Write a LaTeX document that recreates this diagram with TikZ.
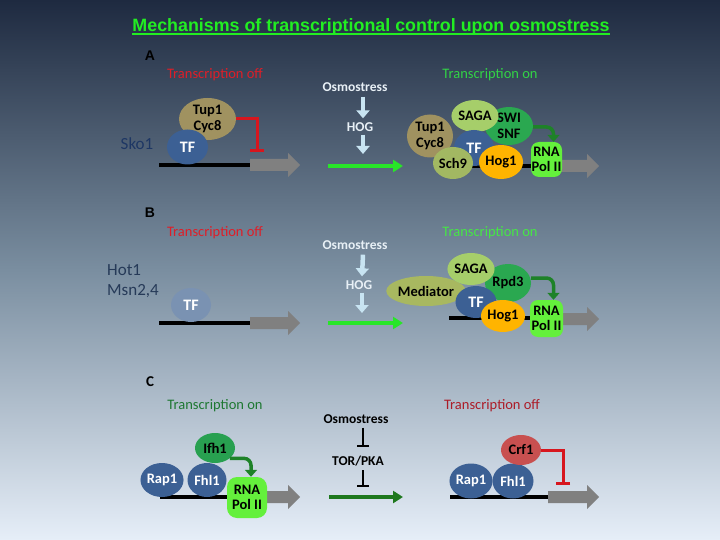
\documentclass[tikz,border=0pt]{standalone}
\usepackage{fontspec}
\setmainfont{Carlito}
\newfontfamily\arialf{Liberation Sans}
\usetikzlibrary{shapes.geometric,arrows.meta,calc}
\definecolor{bgtop}{RGB}{30,42,64}
\definecolor{bgmid}{RGB}{122,142,160}
\definecolor{bgbot}{RGB}{230,238,248}
\definecolor{titlegreen}{RGB}{34,238,34}
\definecolor{offred}{RGB}{222,30,40}
\definecolor{offdark}{RGB}{172,28,40}
\definecolor{ongreen}{RGB}{50,210,70}
\definecolor{ongreenB}{RGB}{70,230,70}
\definecolor{ondark}{RGB}{30,120,50}
\definecolor{skoblue}{RGB}{30,55,100}
\definecolor{hotblue}{RGB}{38,58,88}
\definecolor{osmwhite}{RGB}{232,240,246}
\definecolor{lblue}{RGB}{200,228,242}
\definecolor{tfblue}{RGB}{60,96,148}
\definecolor{tffade}{RGB}{122,146,178}
\definecolor{olivec}{RGB}{160,146,96}
\definecolor{sagac}{RGB}{166,206,106}
\definecolor{swic}{RGB}{42,168,80}
\definecolor{sch9c}{RGB}{162,184,98}
\definecolor{medc}{RGB}{168,184,96}
\definecolor{hogc}{RGB}{255,180,0}
\definecolor{rnagreen}{RGB}{100,240,60}
\definecolor{ifhc}{RGB}{40,160,80}
\definecolor{crfc}{RGB}{200,80,80}
\definecolor{genegray}{RGB}{128,128,128}
\definecolor{inhred}{RGB}{215,22,30}
\definecolor{curvegreen}{RGB}{30,130,40}
\definecolor{stimgreen}{RGB}{40,230,40}
\definecolor{stimdark}{RGB}{30,120,30}
\newcommand\genearr[3]{\fill[genegray] (#1,#3-6) -- (#2-12,#3-6) -- (#2-12,#3-12) -- (#2,#3) -- (#2-12,#3+12) -- (#2-12,#3+6) -- (#1,#3+6) -- cycle;}
\begin{document}
\begin{tikzpicture}[x=1pt,y=-1pt,
  blob/.style={ellipse, inner sep=0pt, align=center, font=\bfseries\fontsize{14.5}{15.5}\selectfont},
  bluebl/.style={blob, fill=tfblue, text=white},
  rnabox/.style={rectangle, rounded corners=8pt, fill=rnagreen, inner sep=0pt, align=center, font=\bfseries\fontsize{14.5}{15.5}\selectfont},
  txt/.style={inner sep=0pt, font=\fontsize{14.5}{16}\selectfont},
  btxt/.style={inner sep=0pt, font=\bfseries\fontsize{13.5}{16}\selectfont},
  lab/.style={inner sep=0pt, font=\arialf\bfseries\fontsize{14}{16}\selectfont},
  dna/.style={line width=4pt, black},
  inhib/.style={line width=3pt, draw=inhred, -{Bar[width=14pt]}},
  tbar/.style={line width=2.5pt, draw=black, -{Bar[width=12pt]}},
  lbarrow/.style={line width=4.5pt, draw=lblue, -{Triangle[width=13pt,length=8pt]}},
  stim/.style={line width=4pt, -{Triangle[width=12pt,length=10pt]}},
  curv/.style={line width=3.5pt, draw=curvegreen, rounded corners=7pt, -{Triangle[width=12pt,length=7pt]}}
]
\useasboundingbox (0,0) rectangle (720,540);
\shade[top color=bgtop, bottom color=bgbot, middle color=bgmid] (0,0) rectangle (720,540);

% title
\node[inner sep=0pt, text=titlegreen] (title) at (371,27) {\resizebox{477pt}{!}{\arialf\bfseries Mechanisms of transcriptional control upon osmostress}};
\draw[titlegreen, line width=2pt] ([yshift=-2.5pt]title.base west) -- ([yshift=-2.5pt]title.base east);

% ===== Panel A =====
\node[lab] (labA) at (150,56) {A};
\node[txt, text=offred] (offA) at (215,75) {Transcription off};
\node[inner sep=0pt, font=\fontsize{17}{20}\selectfont, text=skoblue] (sko) at (137,144) {Sko1};
\draw[dna] (159,165) -- (252,165);
\genearr{250}{300}{165}
\node[blob, fill=olivec, minimum width=57, minimum height=42] (tupA) at (207.5,119) {Tup1\\Cyc8};
\node[bluebl, minimum width=41, minimum height=35, font=\bfseries\fontsize{16}{16}\selectfont] (tfA) at (187.5,147) {TF};
\coordinate (barA) at (257,152);
\draw[inhib] (tupA.east) -| (barA);

\node[btxt, text=osmwhite] (osmA) at (355,87) {Osmostress};
\node[btxt, text=osmwhite] (hogA) at (360,127) {HOG};
\draw[lbarrow] ([xshift=8pt,yshift=-5pt]osmA.south) -- ([xshift=3pt,yshift=4pt]hogA.north);
\coordinate (hogAend) at (363,154);
\draw[lbarrow] ([xshift=3pt,yshift=-3pt]hogA.south) -- (hogAend);
\coordinate (gA1) at (328,166);
\coordinate (gA2) at (403,166);
\draw[stim, draw=stimgreen] (gA1) -- (gA2);

\node[txt, text=ongreen] (onA) at (490,75) {Transcription on};
\draw[dna] (440,166) -- (535,166);
\genearr{555}{599}{166}
\node[blob, fill=swic, minimum width=48, minimum height=38] (swiA) at (509,126) {SWI\\SNF};
\node[blob, fill=olivec, minimum width=46, minimum height=43] (tupA2) at (430,136) {Tup1\\Cyc8};
\node[blob, fill=sagac, minimum width=46, minimum height=32] (sagaA) at (475,116) {SAGA};
\node[bluebl, minimum width=40, minimum height=36, font=\bfseries\fontsize{16}{16}\selectfont] (tfA2) at (474,148) {TF};
\node[blob, fill=sch9c, minimum width=40, minimum height=32] (schA) at (453,163) {Sch9};
\node[blob, fill=hogc, minimum width=36, minimum height=34] (hogA1) at (501,162) {Hog1};
\node[rnabox, minimum width=31, minimum height=35] (rnaA) at (546.5,159.5) {RNA\\Pol II};
\draw[curv] ([yshift=-1pt]swiA.east) -| ([xshift=7pt]rnaA.north);

% ===== Panel B =====
\node[lab] (labB) at (150,213) {B};
\node[txt, text=offred] (offB) at (215,233) {Transcription off};
\node[inner sep=0pt, font=\fontsize{17}{20}\selectfont, text=hotblue, align=left, anchor=north west] (hot) at (107,264) {Hot1\\Msn2,4};
\draw[dna] (159,323) -- (252,323);
\genearr{250}{300}{323}
\node[blob, fill=tffade, text=white, minimum width=40, minimum height=34, font=\bfseries\fontsize{16}{16}\selectfont] (tfB) at (191,305) {TF};

\node[btxt, text=osmwhite] (osmB) at (355,245) {Osmostress};
\node[btxt, text=osmwhite] (hogB) at (359,285) {HOG};
\draw[lbarrow] ([xshift=8pt,yshift=-5pt]osmB.south) -- ([xshift=3pt,yshift=4pt]hogB.north);
\coordinate (hogBend) at (362,313);
\draw[lbarrow] ([xshift=3pt,yshift=-3pt]hogB.south) -- (hogBend);
\coordinate (gB1) at (328,323);
\coordinate (gB2) at (403,323);
\draw[stim, draw=stimgreen] (gB1) -- (gB2);

\node[txt, text=ongreenB] (onB) at (490,233) {Transcription on};
\draw[dna] (449,318) -- (535,318);
\genearr{558}{599}{319}
\node[blob, fill=swic, minimum width=46, minimum height=38] (rpdB) at (508,283) {Rpd3};
\node[blob, fill=medc, minimum width=62, minimum height=30] (medB) at (426,291) {Mediator};
\node[blob, fill=sagac, minimum width=44, minimum height=32] (sagaB) at (471,269) {SAGA};
\node[bluebl, minimum width=41, minimum height=32, font=\bfseries\fontsize{16}{16}\selectfont] (tfB2) at (476,302) {TF};
\node[blob, fill=hogc, minimum width=40, minimum height=32] (hogB1) at (503,316) {Hog1};
\node[rnabox, minimum width=33, minimum height=37] (rnaB) at (546.5,318.5) {RNA\\Pol II};
\draw[curv] ([yshift=5pt]rpdB.east) -| ([xshift=7pt]rnaB.north);

% ===== Panel C =====
\node[inner sep=0pt, font=\bfseries\fontsize{15}{16}\selectfont] (labC) at (150,382) {C};
\node[txt, text=ondark] (onC) at (215,406) {Transcription on};
\draw[dna] (160,497) -- (240,497);
\genearr{262}{300}{497}
\node[bluebl, minimum width=36, minimum height=34] (rapC) at (162,480) {Rap1};
\node[blob, fill=ifhc, minimum width=40, minimum height=30] (ifhC) at (215,448) {Ifh1};
\node[bluebl, minimum width=39, minimum height=34] (fhlC) at (207,480) {Fhl1};
\node[rnabox, minimum width=40, minimum height=41, rounded corners=10pt] (rnaC) at (247,497.5) {RNA\\Pol II};
\draw[curv] (ifhC.-35) -| ([xshift=4pt]rnaC.north);

\node[btxt, text=black] (osmC) at (356,419) {Osmostress};
\node[btxt, text=black] (torC) at (358,461) {TOR/PKA};
\coordinate (torbar) at (363,447);
\draw[tbar] ([xshift=7pt,yshift=-4pt]osmC.south) -- (torbar);
\coordinate (stimbar) at (363,487);
\draw[tbar] ([xshift=5pt,yshift=-4pt]torC.south) -- (stimbar);
\coordinate (gC1) at (329,497);
\coordinate (gC2) at (403,497);
\draw[stim, draw=stimdark] (gC1) -- (gC2);

\node[txt, text=offdark] (offC) at (492,406) {Transcription off};
\draw[dna] (450,497) -- (550,497);
\genearr{548}{599}{497}
\node[bluebl, minimum width=40, minimum height=35] (rapC2) at (471,481) {Rap1};
\node[bluebl, minimum width=41, minimum height=35] (fhlC2) at (513,481) {Fhl1};
\node[blob, fill=crfc, minimum width=40, minimum height=30] (crfC) at (521,450) {Crf1};
\coordinate (barC) at (563,485);
\draw[inhib] (crfC.east) -| (barC);
\end{tikzpicture}
\end{document}
